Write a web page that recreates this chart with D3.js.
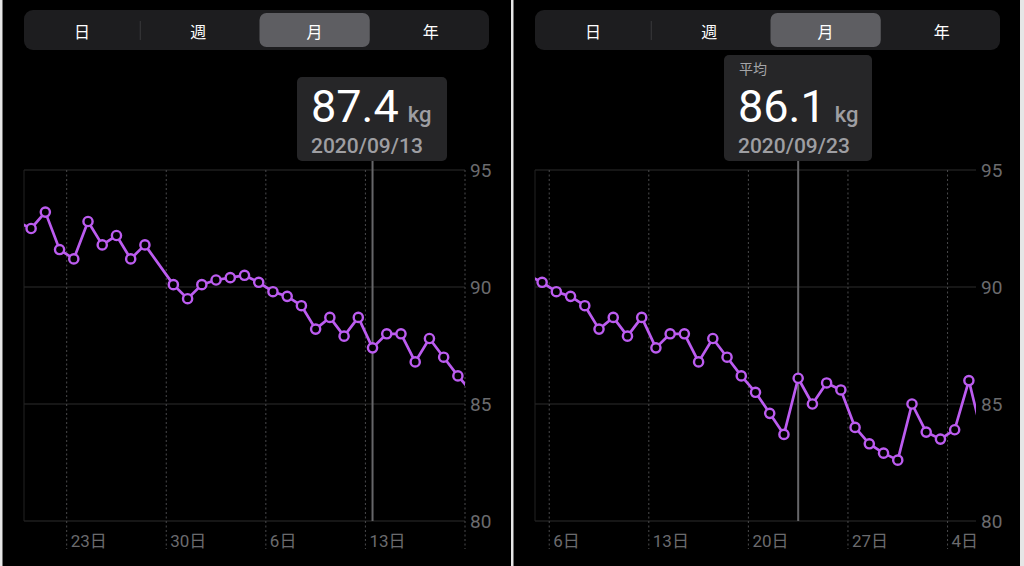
<!DOCTYPE html>
<html>
<head>
<meta charset="utf-8">
<script src="https://cdn.jsdelivr.net/npm/d3@7"></script>
<style>
  html, body { margin: 0; background: #000; }
  svg { display: block; font-family: Roboto, "Noto Sans CJK JP", sans-serif; }
</style>
</head>
<body>
<div id="chart"></div>
<script>
// daily weight readings (Aug 29 has no reading)
const dates = [
  "2020-08-19", "2020-08-20", "2020-08-21", "2020-08-22", "2020-08-23", "2020-08-24",
  "2020-08-25", "2020-08-26", "2020-08-27", "2020-08-28", "2020-08-30", "2020-08-31",
  "2020-09-01", "2020-09-02", "2020-09-03", "2020-09-04", "2020-09-05", "2020-09-06",
  "2020-09-07", "2020-09-08", "2020-09-09", "2020-09-10", "2020-09-11", "2020-09-12",
  "2020-09-13", "2020-09-14", "2020-09-15", "2020-09-16", "2020-09-17", "2020-09-18",
  "2020-09-19", "2020-09-20", "2020-09-21", "2020-09-22", "2020-09-23", "2020-09-24",
  "2020-09-25", "2020-09-26", "2020-09-27", "2020-09-28", "2020-09-29", "2020-09-30",
  "2020-10-01", "2020-10-02", "2020-10-03", "2020-10-04", "2020-10-05", "2020-10-06"
];
const weights = [
  92.8, 92.5, 93.2, 91.6, 91.2, 92.8,
  91.8, 92.2, 91.2, 91.8, 90.1, 89.5,
  90.1, 90.3, 90.4, 90.5, 90.2, 89.8,
  89.6, 89.2, 88.2, 88.7, 87.9, 88.7,
  87.4, 88.0, 88.0, 86.8, 87.8, 87.0,
  86.2, 85.5, 84.6, 83.7, 86.1, 85.0,
  85.9, 85.6, 84.0, 83.3, 82.9, 82.6,
  85.0, 83.8, 83.5, 83.9, 86.0, 83.5
];
const segmentLabels = ["日", "週", "月", "年"];
const yTicks = [80, 85, 90, 95];
const weekTicks = ["2020-08-23", "2020-08-30", "2020-09-06", "2020-09-13",
  "2020-09-20", "2020-09-27", "2020-10-04"];

const width = 1024, height = 566;
const parse = d3.timeParse("%Y-%m-%d");
const data = dates.map((d, i) => ({ date: parse(d), value: weights[i] }));
const ticks = weekTicks.map(parse);

const purple = "#bc5cf0";

const panels = [
  {
    domain: ["2020-08-20", "2020-09-20"], left: 24, right: 465,
    segLeft: 24, segRight: 489, selected: 2,
    picked: "2020-09-13", label: null,
    tip: { x: 297, y: 77, w: 150, h: 84 }
  },
  {
    domain: ["2020-09-05", "2020-10-06"], left: 535, right: 976,
    segLeft: 535, segRight: 1000, selected: 2,
    picked: "2020-09-23", label: "平均",
    tip: { x: 724, y: 55, w: 148, h: 106 }
  }
];

const svg = d3.select("#chart").append("svg")
  .attr("width", width)
  .attr("height", height);

svg.append("rect").attr("width", width).attr("height", height).attr("fill", "#000");

const y = d3.scaleLinear().domain([80, 95]).range([521, 170]);

panels.forEach((p, pi) => {
  const g = svg.append("g");
  const x = d3.scaleTime()
    .domain(p.domain.map(parse))
    .range([p.left, p.right]);
  const noon = d => d3.timeHour.offset(d, 12);

  // segmented control
  const segW = (p.segRight - p.segLeft) / segmentLabels.length;
  g.append("rect")
    .attr("x", p.segLeft).attr("y", 10)
    .attr("width", p.segRight - p.segLeft).attr("height", 40)
    .attr("rx", 9).attr("fill", "#1d1d1f");
  g.append("rect")
    .attr("x", p.segLeft + p.selected * segW + 3).attr("y", 13)
    .attr("width", segW - 6).attr("height", 34)
    .attr("rx", 7).attr("fill", "#5e5e62");
  g.append("line")
    .attr("x1", p.segLeft + segW).attr("x2", p.segLeft + segW)
    .attr("y1", 21).attr("y2", 40)
    .attr("stroke", "#3a3a3c").attr("stroke-width", 1);
  g.selectAll(".seg")
    .data(segmentLabels)
    .join("text")
    .attr("class", "seg")
    .attr("x", (d, i) => p.segLeft + segW * (i + 0.5))
    .attr("y", 31)
    .attr("text-anchor", "middle")
    .attr("dominant-baseline", "central")
    .attr("fill", "#fff")
    .attr("font-size", 16)
    .attr("font-family", "'Noto Sans CJK JP', sans-serif")
    .text(d => d);

  // horizontal grid + y labels
  g.selectAll(".hgrid")
    .data(yTicks)
    .join("line")
    .attr("x1", p.left).attr("x2", p.right)
    .attr("y1", d => y(d)).attr("y2", d => y(d))
    .attr("stroke", "#2c2c2c").attr("stroke-width", 1.2);
  g.append("line")
    .attr("x1", p.left).attr("x2", p.left)
    .attr("y1", y(95)).attr("y2", y(80))
    .attr("stroke", "#222").attr("stroke-width", 1);
  g.selectAll(".ylab")
    .data(yTicks)
    .join("text")
    .attr("x", p.right + 5)
    .attr("y", d => y(d))
    .attr("dominant-baseline", "central")
    .attr("fill", "#6b6b6e")
    .attr("font-size", 19)
    .text(d => d);

  // week ticks, dotted
  const vis = ticks.filter(t => t >= x.domain()[0] && t <= x.domain()[1]);
  g.selectAll(".vgrid")
    .data(vis)
    .join("line")
    .attr("x1", d => x(d)).attr("x2", d => x(d))
    .attr("y1", y(95)).attr("y2", 549)
    .attr("stroke", "#4a4a4c").attr("stroke-width", 1)
    .attr("stroke-dasharray", "2,2.5");
  g.selectAll(".xlab")
    .data(vis.filter(t => t < x.domain()[1]))
    .join("text")
    .attr("x", d => x(d) + 4)
    .attr("y", 541)
    .attr("dominant-baseline", "central")
    .attr("fill", "#6b6b6e")
    .attr("font-size", 17)
    .text(d => d.getDate() + "日");

  // selection line
  const pickedDate = parse(p.picked);
  const pickedVal = data.find(d => +d.date === +pickedDate).value;
  const px = x(noon(pickedDate));
  g.append("line")
    .attr("x1", px).attr("x2", px)
    .attr("y1", p.tip.y + p.tip.h).attr("y2", y(80))
    .attr("stroke", "#666669").attr("stroke-width", 2);

  // weight line, clipped to plot area
  g.append("clipPath").attr("id", "clip" + pi)
    .append("rect")
    .attr("x", p.left).attr("y", 150)
    .attr("width", p.right - p.left).attr("height", 390);
  const plot = g.append("g").attr("clip-path", `url(#clip${pi})`);
  const line = d3.line()
    .x(d => x(noon(d.date)))
    .y(d => y(d.value));
  plot.append("path")
    .datum(data)
    .attr("d", line)
    .attr("fill", "none")
    .attr("stroke", purple)
    .attr("stroke-width", 2.7)
    .attr("stroke-linejoin", "round");
  plot.selectAll(".dot")
    .data(data)
    .join("circle")
    .attr("cx", d => x(noon(d.date)))
    .attr("cy", d => y(d.value))
    .attr("r", 4.6)
    .attr("fill", "#000")
    .attr("stroke", purple)
    .attr("stroke-width", 2.4);

  // tooltip
  const t = p.tip;
  g.append("rect")
    .attr("x", t.x).attr("y", t.y)
    .attr("width", t.w).attr("height", t.h)
    .attr("rx", 5).attr("fill", "#262628");
  if (p.label) {
    g.append("text")
      .attr("x", t.x + 15).attr("y", t.y + 19)
      .attr("fill", "#a5a5a8")
      .attr("font-size", 14)
      .attr("font-family", "'Noto Sans CJK JP', sans-serif")
      .text(p.label);
  }
  const big = g.append("text")
    .attr("x", t.x + 14).attr("y", 122);
  big.append("tspan")
    .attr("fill", "#fff")
    .attr("font-size", 45)
    .text(d3.format(".1f")(pickedVal));
  big.append("tspan")
    .attr("dx", 9)
    .attr("fill", "#9e9ea2")
    .attr("font-size", 22)
    .attr("font-weight", 500)
    .text("kg");
  g.append("text")
    .attr("x", t.x + 14).attr("y", 153)
    .attr("fill", "#9e9ea2")
    .attr("font-size", 21)
    .attr("font-weight", 500)
    .text(d3.timeFormat("%Y/%m/%d")(pickedDate));
});

// light frame strips between the two screenshots
svg.selectAll(".strip")
  .data([[0, 2.5], [511, 2.5], [1020, 4]])
  .join("rect")
  .attr("x", d => d[0]).attr("y", 0)
  .attr("width", d => d[1]).attr("height", height)
  .attr("fill", "#e6e6e6");
</script>
</body>
</html>
